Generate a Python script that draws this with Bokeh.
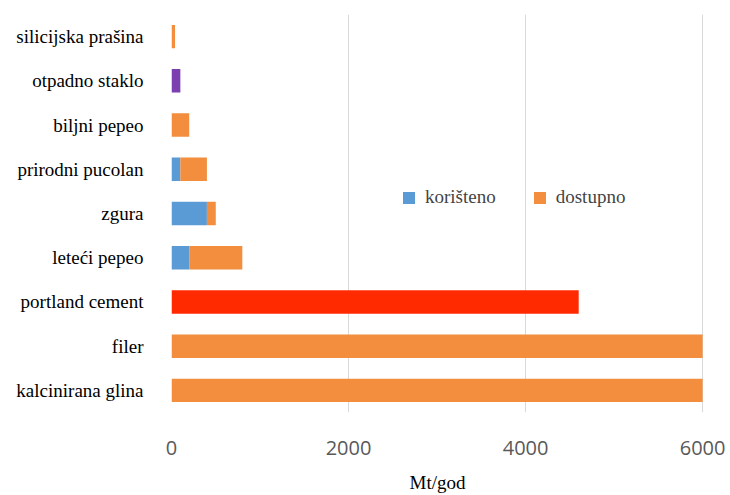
from bokeh.plotting import figure
from bokeh.models import ColumnDataSource, FixedTicker, Legend, LegendItem
from bokeh.embed import file_html
from bokeh.resources import INLINE

# Materials, listed bottom to top
materials = ["kalcinirana glina", "filer", "portland cement", "leteći pepeo", "zgura",
             "prirodni pucolan", "biljni pepeo", "otpadno staklo", "silicijska prašina"]
# Mt/god per material
koristeno = [0, 0, 0, 200, 400, 100, 0, 0, 0]
dostupno = [6000, 6000, 0, 600, 100, 300, 200, 0, 40]
# Single-colour bars drawn on their own
posebno_materijal = ["portland cement", "otpadno staklo"]
posebno_vrijednost = [4600, 100]
posebno_boja = ["#FF2A00", "#7B3FB0"]
x_ticks = [0, 2000, 4000, 6000]

BLUE = "#5B9BD5"
ORANGE = "#F28E3D"
SERIF = "Liberation Serif"

src = ColumnDataSource(dict(materijal=materials, koristeno=koristeno, dostupno=dostupno))
src_p = ColumnDataSource(dict(materijal=posebno_materijal, v=posebno_vrijednost, c=posebno_boja))

p = figure(width=730, height=495, y_range=materials, x_range=(0, 6010),
           output_backend="svg", toolbar_location=None,
           min_border_left=171, min_border_right=27, min_border_top=14, min_border_bottom=83)
p.outline_line_color = None

r = p.hbar_stack(["koristeno", "dostupno"], y="materijal", height=0.53, source=src,
                 color=[BLUE, ORANGE], line_color=None)
p.hbar(y="materijal", left=0, right="v", height=0.53, source=src_p,
       color="c", line_color=None)

p.xaxis.ticker = FixedTicker(ticks=x_ticks)
p.xgrid.ticker = FixedTicker(ticks=x_ticks)
p.xgrid.grid_line_color = "#D9D9D9"
p.ygrid.grid_line_color = None

for ax in (p.xaxis, p.yaxis):
    ax.axis_line_color = None
    ax.major_tick_line_color = None
    ax.minor_tick_line_color = None

p.xaxis.major_label_text_font = "Open Sans"
p.xaxis.major_label_text_font_size = "20px"
p.xaxis.major_label_text_color = "#595959"
p.xaxis.major_label_standoff = 22
p.xaxis.axis_label = "Mt/god"
p.xaxis.axis_label_text_font = SERIF
p.xaxis.axis_label_text_font_style = "normal"
p.xaxis.axis_label_text_font_size = "19px"
p.xaxis.axis_label_text_color = "#000000"
p.xaxis.axis_label_standoff = 14

p.yaxis.major_label_text_font = SERIF
p.yaxis.major_label_text_font_size = "19px"
p.yaxis.major_label_text_color = "#000000"
p.yaxis.major_label_standoff = 22

legend = Legend(items=[LegendItem(label="korišteno", renderers=[r[0]]),
                       LegendItem(label="dostupno", renderers=[r[1]])],
                orientation="horizontal", location=(230, 204),
                padding=0, margin=0, spacing=36, label_standoff=9,
                glyph_width=15, glyph_height=15,
                label_text_font=SERIF, label_text_font_size="19px",
                border_line_color=None, background_fill_alpha=0)
p.add_layout(legend)

open("out.html", "w").write(file_html(p, INLINE))
